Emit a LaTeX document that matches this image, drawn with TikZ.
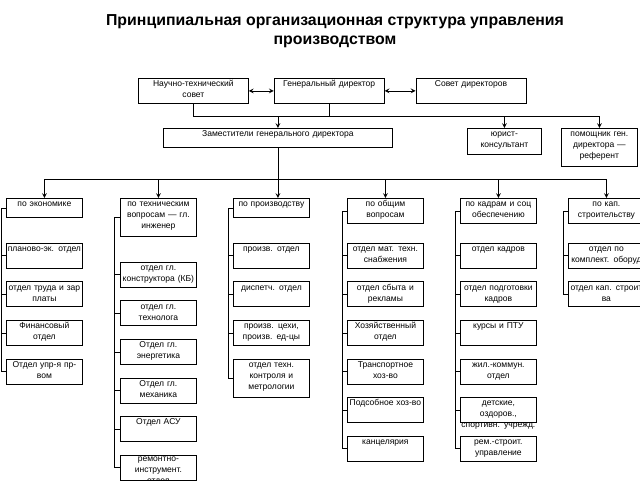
\documentclass[tikz,border=0pt]{standalone}
\usepackage{fontspec}
\setmainfont{Liberation Sans}
\usepackage{tikz}
\usetikzlibrary{arrows}
\usetikzlibrary{positioning}

\newcommand{\cellfont}{\fontsize{6.4pt}{8.2pt}\selectfont}
\newcommand{\titlefont}{\fontsize{11.9pt}{14.5pt}\selectfont\bfseries}

\tikzstyle{cell} = [rectangle, draw=black, line width=0.6pt, font=\cellfont, text width=55.5pt, align=center, inner xsep=0.75pt, inner ysep=0.75pt, text height=5.5pt, text depth=11.75pt]
\tikzstyle{low} = [cell, text depth=7.25pt]
\tikzstyle{tall} = [cell, text depth=21.5pt]
\tikzstyle{arrow} = [line width=0.6pt, ->, >=stealth]
\tikzstyle{both} = [line width=0.6pt, <->, >=stealth]
\tikzstyle{link} = [line width=0.6pt]

\begin{document}
\begin{tikzpicture}[x=0.75pt, y=-0.75pt]
    \useasboundingbox (0,0) rectangle (640,480);
    \node(title)[font=\titlefont, align=center] at (335,31) {Принципиальная организационная структура управления\\производством};
    %
    \node(ntc)[cell, text width=81pt, anchor=north west] at (138,78) {Научно-технический\\совет};
    \node(gen)[cell, text width=81pt, right=18.75pt of ntc] {Генеральный директор};
    \node(sov)[cell, text width=81pt, right=23.25pt of gen] {Совет директоров};
    \node(zam)[low, text width=170.25pt, anchor=north west] at (163,128) {Заместители генерального директора};
    \node(yur)[cell, text width=54pt, text depth=12.5pt, anchor=north west] at (467,128) {юрист-\\консультант};
    \node(pom)[tall, anchor=north west] at (561,128) {помощник ген.\\директора ---\\референт};
    %
    \node(eko)[low, anchor=north west] at (6,198) {по экономике};
    \node(tek)[tall, anchor=north west] at (120,198) {по техническим\\вопросам --- гл.\\инженер};
    \node(pro)[low, anchor=north west] at (233,198) {по производству};
    \node(obs)[cell, anchor=north west] at (347,198) {по общим\\вопросам};
    \node(kad)[cell, anchor=north west] at (460,198) {по кадрам и соц\\обеспечению};
    \node(kap)[cell, anchor=north west] at (568,198) {по кап.\\строительству};
    %
    \node(eko1)[cell, below=18.75pt of eko] {планово-эк. отдел};
    \node(eko2)[cell, below=9.6pt of eko1] {отдел труда и зар\\платы};
    \node(eko3)[cell, below=9.6pt of eko2] {Финансовый\\отдел};
    \node(eko4)[cell, below=9.6pt of eko3] {Отдел упр-я пр-\\вом};
    %
    \node(tek1)[cell, below=18.75pt of tek] {отдел гл.\\конструктора (КБ)};
    \node(tek2)[cell, below=9.6pt of tek1] {отдел гл.\\технолога};
    \node(tek3)[cell, below=9.6pt of tek2] {Отдел гл.\\энергетика};
    \node(tek4)[cell, below=9.6pt of tek3] {Отдел гл.\\механика};
    \node(tek5)[cell, below=9.6pt of tek4] {Отдел АСУ};
    \node(tek6)[cell, text height=4pt, text depth=13.25pt, below=9.6pt of tek5] {ремонтно-\\инструмент.\\отдел};
    %
    \node(pro1)[cell, below=18.75pt of pro] {произв. отдел};
    \node(pro2)[cell, below=9.6pt of pro1] {диспетч. отдел};
    \node(pro3)[cell, below=9.6pt of pro2] {произв. цехи,\\произв. ед-цы};
    \node(pro4)[tall, below=9.6pt of pro3] {отдел техн.\\контроля и\\метрологии};
    %
    \node(obs1)[cell, below=14.25pt of obs] {отдел мат. техн.\\снабжения};
    \node(obs2)[cell, below=9.6pt of obs1] {отдел сбыта и\\рекламы};
    \node(obs3)[cell, below=9.6pt of obs2] {Хозяйственный\\отдел};
    \node(obs4)[cell, below=9.6pt of obs3] {Транспортное\\хоз-во};
    \node(obs5)[cell, below=9.6pt of obs4] {Подсобное хоз-во};
    \node(obs6)[cell, below=9.6pt of obs5] {канцелярия};
    %
    \node(kad1)[cell, below=14.25pt of kad] {отдел кадров};
    \node(kad2)[cell, below=9.6pt of kad1] {отдел подготовки\\кадров};
    \node(kad3)[cell, below=9.6pt of kad2] {курсы и ПТУ};
    \node(kad4)[cell, below=9.6pt of kad3] {жил.-коммун.\\отдел};
    \node(kad5)[cell, below=9.6pt of kad4] {детские,\\оздоров.,\\спортивн. учрежд.};
    \node(kad6)[cell, below=9.6pt of kad5] {рем.-строит.\\управление};
    %
    \node(kap1)[cell, below=14.25pt of kap] {отдел по\\комплект. оборуд};
    \node(kap2)[cell, below=9.6pt of kap1] {отдел кап. строит\\ва};
    %
    \draw[both](ntc)--(gen);
    \draw[both](gen)--(sov);
    \coordinate(busa) at (0,116);
    \draw[link](ntc.south) |- (pom.north |- busa);
    \draw[link](gen.south) -- (gen.south |- busa);
    \foreach \n in {zam, yur, pom}
        \draw[arrow](\n.north |- busa) -- (\n.north);
    %
    \coordinate(busb) at (0,179);
    \draw[arrow](zam.south) -- (zam.south |- pro.north);
    \draw[link](eko.north |- busb) -- (kap.north |- busb);
    \foreach \n in {eko, tek, obs, kad, kap}
        \draw[arrow](\n.north |- busb) -- (\n.north);
    %
    \draw[link](eko.west) -- ++(-5,0) |- (eko4.west);
    \draw[link](tek.west) -- ++(-6,0) |- (tek6.west);
    \draw[link](pro.west) -- ++(-5,0) |- (pro4.west);
    \draw[link](obs.west) -- ++(-5,0) |- (obs6.west);
    \draw[link](kad.west) -- ++(-5,0) |- (kad6.west);
    \draw[link](kap.west) -- ++(-5,0) |- (kap2.west);
    \foreach \i in {1,2,3} \draw[link](eko\i.west) -- ++(-5,0);
    \foreach \i in {1,...,5} \draw[link](tek\i.west) -- ++(-6,0);
    \foreach \i in {1,2,3} \draw[link](pro\i.west) -- ++(-5,0);
    \foreach \i in {1,...,5} \draw[link](obs\i.west) -- ++(-5,0);
    \foreach \i in {1,...,5} \draw[link](kad\i.west) -- ++(-5,0);
    \draw[link](kap1.west) -- ++(-5,0);
\end{tikzpicture}
\end{document}
